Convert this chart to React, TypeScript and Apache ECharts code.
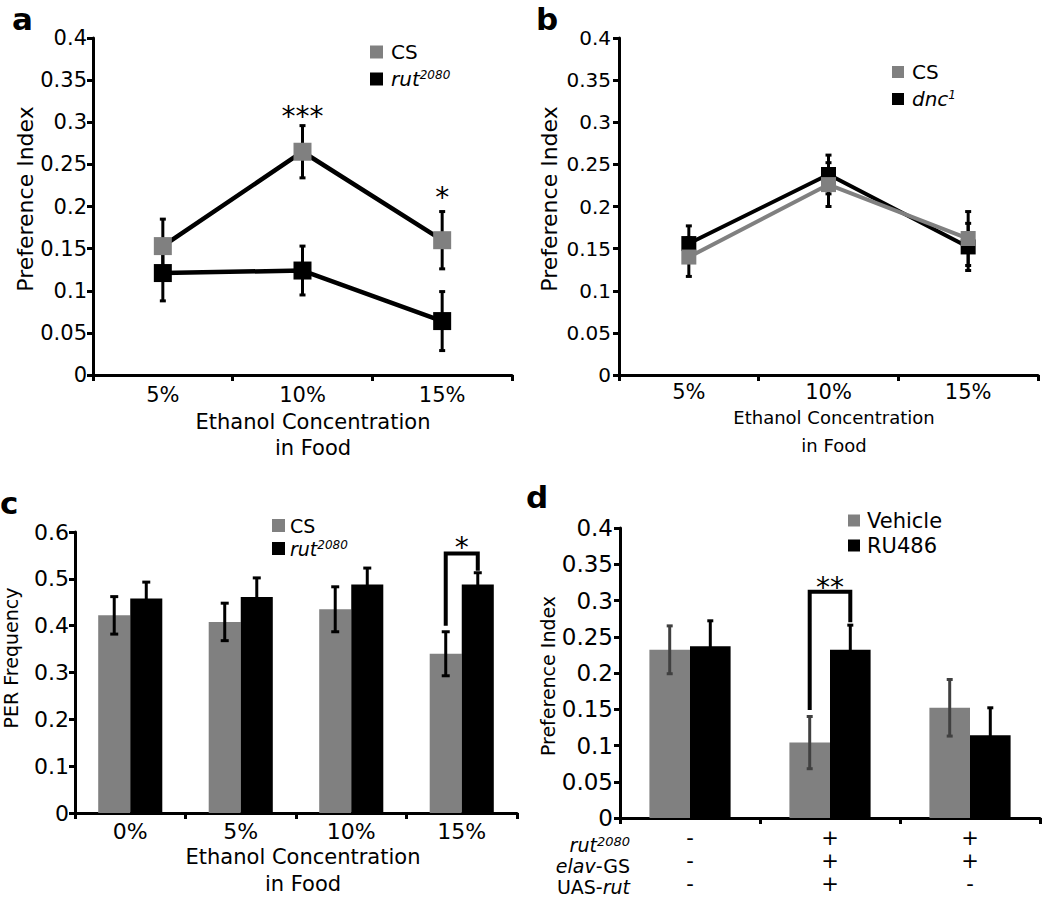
import React, { useEffect, useRef } from 'react';
import * as echarts from 'echarts';

const FONT = '"DejaVu Sans", "Liberation Sans", Arial, sans-serif';
const GRAY = '#808080';
const BLACK = '#000000';

// ---------- Panel a ----------
const lineCategories = ['5%', '10%', '15%'];
const aCS = [0.153, 0.265, 0.160];
const aCSErr = [0.032, 0.031, 0.034];
const aRut = [0.121, 0.124, 0.064];
const aRutErr = [0.033, 0.029, 0.035];
const aStars = [[1, 0.307, '***'], [2, 0.211, '*']];

// ---------- Panel b ----------
const bCS = [0.140, 0.226, 0.162];
const bCSErr = [0.023, 0.026, 0.032];
const bDnc = [0.156, 0.238, 0.152];
const bDncErr = [0.021, 0.023, 0.028];

// ---------- Panel c ----------
const barCategories = ['0%', '5%', '10%', '15%'];
const cCS = [0.422, 0.408, 0.435, 0.340];
const cCSErr = [0.040, 0.040, 0.048, 0.047];
const cRut = [0.458, 0.461, 0.488, 0.488];
const cRutErr = [0.035, 0.041, 0.035, 0.025];
const cBracket = [[3, 0.40, 0.554, 0.517]];
const cStars = [[3, 0.566, '*']];

// ---------- Panel d ----------
const dRowRut = ['-', '+', '+'];
const dRowElav = ['-', '+', '+'];
const dRowUAS = ['-', '+', '-'];
const dVeh = [0.232, 0.104, 0.152];
const dVehErr = [0.033, 0.036, 0.039];
const dRU = [0.237, 0.232, 0.114];
const dRUErr = [0.035, 0.034, 0.038];
const dBracket = [[1, 0.149, 0.312, 0.270]];
const dStars = [[1, 0.318, '**']];

const legendLabels: Record<string, string> = {
  aCS: 'CS',
  aRut: '{i|rut}{s|2080}',
  bCS: 'CS',
  bDnc: '{i|dnc}{s|1}',
  cCS: 'CS',
  cRut: '{i|rut}{s|2080}',
  dVeh: 'Vehicle',
  dRU: 'RU486',
};

const errData = (vals: number[], errs: number[]) => vals.map((v, i) => [i, v - errs[i], v + errs[i]]);

function errorSeries(grid: number, data: number[][], offsetFrac: number, color: string, capHalf: number, width: number, z: number) {
  return {
    type: 'custom',
    xAxisIndex: grid,
    yAxisIndex: grid,
    data,
    z,
    silent: true,
    encode: { x: 0, y: [1, 2] },
    renderItem: (params: any, api: any) => {
      const c = api.value(0);
      const lo = api.value(1);
      const hi = api.value(2);
      const band = api.size([1, 0])[0];
      const pt = api.coord([c, hi]);
      const pb = api.coord([c, lo]);
      const x = pt[0] + offsetFrac * band;
      const st = { stroke: color, lineWidth: width };
      return {
        type: 'group',
        children: [
          { type: 'line', shape: { x1: x, y1: pt[1], x2: x, y2: pb[1] }, style: st },
          { type: 'line', shape: { x1: x - capHalf, y1: pt[1], x2: x + capHalf, y2: pt[1] }, style: st },
          { type: 'line', shape: { x1: x - capHalf, y1: pb[1], x2: x + capHalf, y2: pb[1] }, style: st },
        ],
      };
    },
  };
}

function bracketSeries(grid: number, data: number[][], offsetFrac: number) {
  return {
    type: 'custom',
    xAxisIndex: grid,
    yAxisIndex: grid,
    data,
    z: 6,
    silent: true,
    encode: { x: 0, y: [1, 2, 3] },
    renderItem: (params: any, api: any) => {
      const c = api.value(0);
      const band = api.size([1, 0])[0];
      const pL = api.coord([c, api.value(1)]);
      const pT = api.coord([c, api.value(2)]);
      const pR = api.coord([c, api.value(3)]);
      const xl = pL[0] - offsetFrac * band;
      const xr = pL[0] + offsetFrac * band;
      return {
        type: 'polyline',
        shape: { points: [[xl, pL[1]], [xl, pT[1]], [xr, pT[1]], [xr, pR[1]]] },
        style: { stroke: BLACK, lineWidth: 4, fill: 'none' },
      };
    },
  };
}

function starSeries(grid: number, data: any[]) {
  return {
    type: 'custom',
    xAxisIndex: grid,
    yAxisIndex: grid,
    data,
    z: 7,
    silent: true,
    encode: { x: 0, y: 1 },
    renderItem: (params: any, api: any) => {
      const item = data[params.dataIndex];
      const p = api.coord([item[0], item[1]]);
      return {
        type: 'text',
        x: p[0],
        y: p[1],
        style: {
          text: item[2],
          fill: BLACK,
          fontSize: 28,
          fontFamily: FONT,
          align: 'center',
          verticalAlign: 'middle',
        },
      };
    },
  };
}

const axisLine = { show: true, lineStyle: { color: BLACK, width: 3 } };
const axisTick = { show: true, length: 6, lineStyle: { color: BLACK, width: 3 } };

function yAxis(grid: number, max: number, interval: number, fontSize: number, margin: number, name: string, nameSize: number, nameGap: number, namePad: number[]) {
  return {
    gridIndex: grid,
    type: 'value',
    min: 0,
    max,
    interval,
    axisLine,
    axisTick,
    splitLine: { show: false },
    axisLabel: { fontSize, color: BLACK, fontFamily: FONT, margin },
    name,
    nameLocation: 'middle',
    nameGap,
    nameTextStyle: { fontSize: nameSize, color: BLACK, fontFamily: FONT, padding: namePad },
  };
}

function xAxis(grid: number, data: string[], fontSize: number, margin: number, name: string, nameSize: number, nameGap: number, lineHeight: number, namePad: number[], labelLineHeight?: number) {
  return {
    gridIndex: grid,
    type: 'category',
    data,
    boundaryGap: true,
    axisLine,
    axisTick: { ...axisTick, alignWithLabel: false },
    splitLine: { show: false },
    axisLabel: { fontSize, color: BLACK, fontFamily: FONT, margin, lineHeight: labelLineHeight, interval: 0 },
    name,
    nameLocation: 'middle',
    nameGap,
    nameTextStyle: { fontSize: nameSize, color: BLACK, fontFamily: FONT, lineHeight, padding: namePad },
  };
}

function legend(left: number, top: number, names: string[], colors: string[], size: number, fontSize: number, gap: number, textPadLeft: number) {
  return {
    left,
    top,
    orient: 'vertical',
    icon: 'rect',
    itemWidth: size,
    itemHeight: size,
    itemGap: gap,
    selectedMode: false,
    padding: 0,
    data: names.map((n, i) => ({ name: n, itemStyle: { color: colors[i] } })),
    formatter: (n: string) => legendLabels[n],
    textStyle: {
      fontSize,
      color: BLACK,
      fontFamily: FONT,
      padding: [0, 0, 0, textPadLeft],
      rich: {
        i: { fontSize, fontStyle: 'italic', fontFamily: FONT, color: BLACK },
        s: { fontSize: Math.round(fontSize * 0.62), fontStyle: 'italic', fontFamily: FONT, color: BLACK, verticalAlign: 'top', lineHeight: Math.round(fontSize * 0.62) },
      },
    },
  };
}

const dCategories = dRowRut.map((v, i) => [v, dRowElav[i], dRowUAS[i]].join('\n'));

function buildOption() {
  const letterStyle = (t: string) => ({ text: t, fill: BLACK, fontSize: 31, lineHeight: 31, fontWeight: 'bold', fontFamily: FONT });
  const rowLabel = (text: string, y: number) => ({
    type: 'text',
    right: 1050 - 630,
    top: y - 10,
    style: {
      text,
      fill: BLACK,
      fontSize: 19,
      lineHeight: 20,
      fontFamily: FONT,
      rich: {
        i: { fontSize: 19, lineHeight: 20, fontStyle: 'italic', fontFamily: FONT, color: BLACK },
        n: { fontSize: 19, lineHeight: 20, fontFamily: FONT, color: BLACK },
        s: { fontSize: 13, fontStyle: 'italic', fontFamily: FONT, color: BLACK, verticalAlign: 'top', lineHeight: 13 },
      },
    },
  });
  return {
    animation: false,
    backgroundColor: '#ffffff',
    textStyle: { fontFamily: FONT },
    grid: [
      { left: 93, top: 38, width: 419, height: 337 },
      { left: 619, top: 38, width: 419, height: 337 },
      { left: 73, top: 532, width: 444, height: 287 },
      { left: 620, top: 528, width: 420, height: 290 },
    ],
    xAxis: [
      xAxis(0, lineCategories, 21, 9, 'Ethanol Concentration\nin Food', 21, 34, 26, [0, 0, 0, 21]),
      xAxis(1, lineCategories, 21, 6, 'Ethanol Concentration\nin Food', 18, 28, 28, [0, 0, 0, 11]),
      xAxis(2, barCategories, 22, 7, 'Ethanol Concentration\nin Food', 21, 30, 27, [0, 0, 0, 14]),
      xAxis(3, dCategories, 21, 8, '', 12, 10, 12, [0, 0, 0, 0], 23),
    ],
    yAxis: [
      yAxis(0, 0.4, 0.05, 21, 6, 'Preference Index', 22, 55, [0, 0, 0, 15]),
      yAxis(1, 0.4, 0.05, 20, 8, 'Preference Index', 22, 59, [0, 0, 0, 15]),
      yAxis(2, 0.6, 0.1, 22, 6, 'PER Frequency', 19, 55, [0, 0, 0, 29]),
      yAxis(3, 0.4, 0.05, 23, 7, 'Preference Index', 19, 62, [0, 6, 0, 0]),
    ],
    legend: [
      legend(370, 42, ['aCS', 'aRut'], [GRAY, BLACK], 13, 20, 7, 3),
      legend(892, 62, ['bCS', 'bDnc'], [GRAY, BLACK], 12, 20, 7, 3),
      legend(272, 516, ['cCS', 'cRut'], [GRAY, BLACK], 13, 19, 4, 0),
      legend(848, 510, ['dVeh', 'dRU'], [GRAY, BLACK], 12, 21, 4, 2),
    ],
    graphic: [
      { type: 'text', left: 12, top: 3, style: letterStyle('a') },
      { type: 'text', left: 536, top: 3, style: letterStyle('b') },
      { type: 'text', left: 0, top: 487, style: letterStyle('c') },
      { type: 'text', left: 526, top: 481, style: letterStyle('d') },
      rowLabel('{i|rut}{s|2080}', 845),
      rowLabel('{i|elav}{n|-GS}', 866),
      rowLabel('{n|UAS-}{i|rut}', 887),
    ],
    series: [
      // panel a
      errorSeries(0, errData(aCS, aCSErr), 0, BLACK, 3, 3, 1),
      errorSeries(0, errData(aRut, aRutErr), 0, BLACK, 3, 3, 1),
      {
        name: 'aCS', type: 'line', xAxisIndex: 0, yAxisIndex: 0, data: aCS, z: 3,
        symbol: 'rect', symbolSize: 18, itemStyle: { color: GRAY }, lineStyle: { color: BLACK, width: 4.5 },
      },
      {
        name: 'aRut', type: 'line', xAxisIndex: 0, yAxisIndex: 0, data: aRut, z: 3,
        symbol: 'rect', symbolSize: 18, itemStyle: { color: BLACK }, lineStyle: { color: BLACK, width: 4.5 },
      },
      starSeries(0, aStars),
      // panel b
      errorSeries(1, errData(bDnc, bDncErr), 0, BLACK, 3, 3, 1),
      errorSeries(1, errData(bCS, bCSErr), 0, BLACK, 3, 3, 1),
      {
        name: 'bDnc', type: 'line', xAxisIndex: 1, yAxisIndex: 1, data: bDnc, z: 3,
        symbol: 'rect', symbolSize: 15, itemStyle: { color: BLACK }, lineStyle: { color: BLACK, width: 4 },
      },
      {
        name: 'bCS', type: 'line', xAxisIndex: 1, yAxisIndex: 1, data: bCS, z: 4,
        symbol: 'rect', symbolSize: 15, itemStyle: { color: GRAY }, lineStyle: { color: GRAY, width: 4 },
      },
      // panel c
      {
        name: 'cCS', type: 'bar', xAxisIndex: 2, yAxisIndex: 2, data: cCS, barWidth: '29%', barGap: '0%',
        itemStyle: { color: GRAY }, z: 2,
      },
      {
        name: 'cRut', type: 'bar', xAxisIndex: 2, yAxisIndex: 2, data: cRut, barWidth: '29%', barGap: '0%',
        itemStyle: { color: BLACK }, z: 2,
      },
      errorSeries(2, errData(cCS, cCSErr), -0.145, BLACK, 4, 3, 4),
      errorSeries(2, errData(cRut, cRutErr), 0.145, BLACK, 4, 3, 4),
      bracketSeries(2, cBracket, 0.145),
      starSeries(2, cStars),
      // panel d
      {
        name: 'dVeh', type: 'bar', xAxisIndex: 3, yAxisIndex: 3, data: dVeh, barWidth: '29%', barGap: '0%',
        itemStyle: { color: GRAY }, z: 2,
      },
      {
        name: 'dRU', type: 'bar', xAxisIndex: 3, yAxisIndex: 3, data: dRU, barWidth: '29%', barGap: '0%',
        itemStyle: { color: BLACK }, z: 2,
      },
      errorSeries(3, errData(dVeh, dVehErr), -0.145, '#404040', 3, 3, 4),
      errorSeries(3, errData(dRU, dRUErr), 0.145, BLACK, 3, 3, 4),
      bracketSeries(3, dBracket, 0.145),
      starSeries(3, dStars),
    ],
  };
}

export default function App() {
  const ref = useRef<HTMLDivElement>(null);
  useEffect(() => {
    if (!ref.current) return;
    const chart = echarts.init(ref.current, undefined, { renderer: 'svg' });
    chart.setOption(buildOption() as any);
    return () => chart.dispose();
  }, []);
  return (
    <div
      ref={ref}
      style={{ position: 'fixed', left: 0, top: 0, width: 1050, height: 898, background: '#fff' }}
    />
  );
}
